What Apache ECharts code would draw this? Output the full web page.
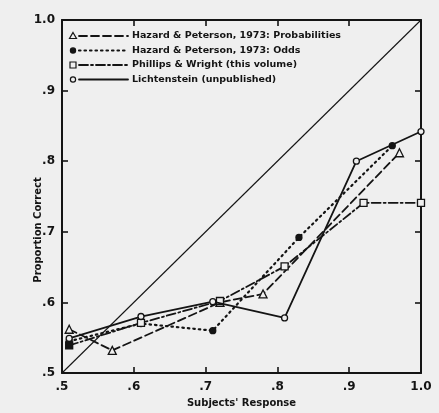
<!DOCTYPE html>
<html>
<head>
<meta charset="utf-8">
<script src="https://cdn.jsdelivr.net/npm/echarts@6/dist/echarts.min.js"></script>
<style>
  html, body { margin: 0; padding: 0; background: #efefef; }
  #chart { width: 439px; height: 413px; }
</style>
</head>
<body>
<div id="chart"></div>
<script>
// ---- data ----
const xTickLabels = ['.5', '.6', '.7', '.8', '.9', '1.0'];
const yTickLabels = ['.5', '.6', '.7', '.8', '.9', '1.0'];
const seriesNames = [
  'Hazard & Peterson, 1973: Probabilities',
  'Hazard & Peterson, 1973: Odds',
  'Phillips & Wright (this volume)',
  'Lichtenstein (unpublished)'
];
const hazardProbX = [0.51, 0.57, 0.72, 0.78, 0.97];
const hazardProbY = [0.562, 0.532, 0.600, 0.612, 0.812];
const hazardOddsX = [0.51, 0.61, 0.71, 0.83, 0.96];
const hazardOddsY = [0.545, 0.570, 0.560, 0.692, 0.822];
const phillipsX = [0.51, 0.61, 0.72, 0.81, 0.92, 1.00];
const phillipsY = [0.539, 0.571, 0.602, 0.651, 0.741, 0.741];
const lichtX = [0.51, 0.61, 0.71, 0.81, 0.91, 1.00];
const lichtY = [0.549, 0.580, 0.601, 0.578, 0.800, 0.842];
const diagonalX = [0.5, 1.0];
const diagonalY = [0.5, 1.0];

const INK = '#141414';
const BG = '#efefef';
const FONT = 'DejaVu Sans';

function pairs(xs, ys) { return xs.map((x, i) => [x, ys[i]]); }

const styles = [
  { symbol: 'triangle', size: 8, fill: BG, dash: [8, 4], width: 1.8 },
  { symbol: 'circle', size: 6, fill: INK, dash: [1.5, 4], width: 2.2 },
  { symbol: 'rect', size: 7, fill: BG, dash: [9, 3, 2, 3], width: 1.8 },
  { symbol: 'circle', size: 6, fill: BG, dash: 'solid', width: 1.8 }
];
const datasets = [
  pairs(hazardProbX, hazardProbY),
  pairs(hazardOddsX, hazardOddsY),
  pairs(phillipsX, phillipsY),
  pairs(lichtX, lichtY)
];

const series = [{
  type: 'line',
  data: pairs(diagonalX, diagonalY),
  showSymbol: false,
  lineStyle: { color: INK, width: 1.1 },
  silent: true,
  z: 1
}];
datasets.forEach((d, i) => {
  const s = styles[i];
  const data = d.map((p, j) => {
    if (i === 2 && j === 0) return { value: p, itemStyle: { color: INK } };
    return p;
  });
  series.push({
    name: seriesNames[i],
    type: 'line',
    data: data,
    symbol: s.symbol,
    symbolSize: s.size,
    lineStyle: { color: INK, width: s.width, type: s.dash, cap: 'round' },
    itemStyle: { color: s.fill, borderColor: INK, borderWidth: 1.3 },
    z: 3 + i
  });
});

// legend drawn as graphic
const legendGraphics = [];
const legX = 73, legY0 = 36, legDy = 14.5;
styles.forEach((s, i) => {
  const y = legY0 + i * legDy;
  legendGraphics.push({
    type: 'line',
    shape: { x1: 79, y1: y, x2: 128, y2: y },
    style: { stroke: INK, lineWidth: s.width, lineDash: s.dash === 'solid' ? null : s.dash, lineCap: 'round' }
  });
  let sym;
  if (s.symbol === 'triangle') {
    sym = { type: 'polygon', shape: { points: [[legX, y - 3.5], [legX + 3.5, y + 2.5], [legX - 3.5, y + 2.5]] } };
  } else if (s.symbol === 'rect') {
    sym = { type: 'rect', shape: { x: legX - 3, y: y - 3, width: 6, height: 6 } };
  } else {
    sym = { type: 'circle', shape: { cx: legX, cy: y, r: 2.6 } };
  }
  sym.style = { fill: s.fill, stroke: INK, lineWidth: 1.2 };
  legendGraphics.push(sym);
  legendGraphics.push({
    type: 'text',
    x: 132, y: y,
    style: {
      text: seriesNames[i], fill: INK, font: 'bold 9.5px "' + FONT + '"',
      verticalAlign: 'middle', align: 'left'
    }
  });
});
legendGraphics.push({
  type: 'text',
  x: 38, y: 230,
  rotation: Math.PI / 2,
  style: {
    text: 'Proportion Correct', fill: INK, font: 'bold 10px "' + FONT + '"',
    align: 'center', verticalAlign: 'middle'
  }
});

function tickIdx(v) { return Math.round((v - 0.5) / 0.1); }

const axisCommon = {
  type: 'value', min: 0.5, max: 1.0, interval: 0.1,
  splitLine: { show: false },
  axisLine: { show: true, lineStyle: { color: INK, width: 2 } },
  axisTick: { show: true, inside: true, length: 6, lineStyle: { color: INK, width: 1.6 } }
};

const chart = echarts.init(document.getElementById('chart'));
chart.setOption({
  backgroundColor: BG,
  animation: false,
  grid: { left: 62, right: 18, top: 20, bottom: 36 },
  xAxis: [
    Object.assign({}, axisCommon, {
      position: 'bottom',
      axisLabel: {
        margin: 8, color: INK, fontFamily: FONT, fontWeight: 'bold', fontSize: 12,
        formatter: v => xTickLabels[tickIdx(v)]
      },
      name: "Subjects' Response", nameLocation: 'middle', nameGap: 25,
      nameTextStyle: { color: INK, fontFamily: FONT, fontWeight: 'bold', fontSize: 10 }
    }),
    Object.assign({}, axisCommon, { position: 'top', axisLabel: { show: false } })
  ],
  yAxis: [
    Object.assign({}, axisCommon, {
      position: 'left',
      axisLabel: {
        margin: 7, color: INK, fontFamily: FONT, fontWeight: 'bold', fontSize: 12,
        formatter: v => yTickLabels[tickIdx(v)]
      }
    }),
    Object.assign({}, axisCommon, { position: 'right', axisLabel: { show: false } })
  ],
  series: series,
  graphic: legendGraphics
});
</script>
</body>
</html>
